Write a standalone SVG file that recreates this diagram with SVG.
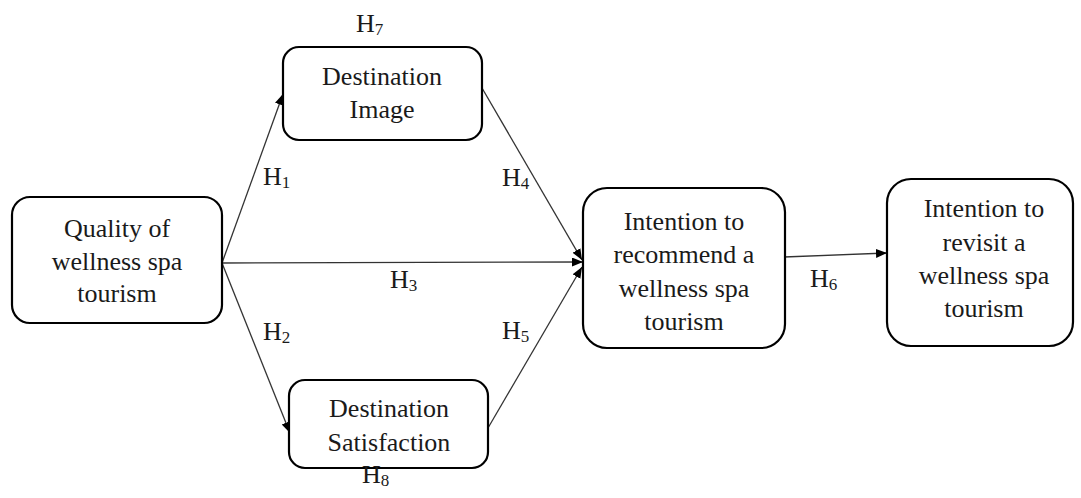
<svg xmlns="http://www.w3.org/2000/svg" width="1081" height="498" viewBox="0 0 1081 498">
<defs>
<marker id="arr" markerUnits="userSpaceOnUse" markerWidth="12" markerHeight="10" refX="11" refY="4.5" orient="auto">
<path d="M0,0 L11,4.5 L0,9 z" fill="#000"/>
</marker>
<style>
.box{fill:#fff;stroke:#000;stroke-width:2.2}
.t{font-family:"Liberation Serif","Times New Roman",serif;font-size:26px;fill:#1a1a1a;text-anchor:middle}
.h{font-family:"Liberation Serif","Times New Roman",serif;font-size:26px;fill:#1a1a1a}
.s{font-size:17px}
.c{stroke:#333;stroke-width:1.3;fill:none;marker-end:url(#arr)}
</style>
</defs>
<rect width="1081" height="498" fill="#fff"/>
<g id="connectors">
<line class="c" x1="222" y1="263" x2="283" y2="94"/>
<line class="c" x1="222" y1="263" x2="290" y2="433"/>
<line class="c" x1="222" y1="263" x2="583" y2="262"/>
<line class="c" x1="482" y1="88" x2="582" y2="260"/>
<line class="c" x1="488" y1="428" x2="582" y2="267"/>
<line class="c" x1="784" y1="257" x2="887" y2="253"/>
</g>
<g id="quality">
<rect class="box" x="12" y="197" width="210" height="126" rx="18"/>
<text class="t" x="117" y="237">Quality of</text>
<text class="t" x="117" y="270">wellness spa</text>
<text class="t" x="117" y="302">tourism</text>
</g>
<g id="image">
<rect class="box" x="283" y="47" width="199" height="93" rx="16"/>
<text class="t" x="382" y="85">Destination</text>
<text class="t" x="382" y="118">Image</text>
</g>
<g id="satisfaction">
<rect class="box" x="289" y="380" width="199" height="88" rx="16"/>
<text class="t" x="389" y="417">Destination</text>
<text class="t" x="389" y="451">Satisfaction</text>
</g>
<g id="recommend">
<rect class="box" x="583" y="188" width="202" height="160" rx="24"/>
<text class="t" x="684" y="230">Intention to</text>
<text class="t" x="684" y="263">recommend a</text>
<text class="t" x="684" y="297">wellness spa</text>
<text class="t" x="684" y="330">tourism</text>
</g>
<g id="revisit">
<rect class="box" x="887" y="179" width="186" height="167" rx="24"/>
<text class="t" x="984" y="217">Intention to</text>
<text class="t" x="984" y="251">revisit a</text>
<text class="t" x="984" y="284">wellness spa</text>
<text class="t" x="984" y="317">tourism</text>
</g>
<g id="labels">
<text class="h" x="356" y="32">H<tspan class="s" dy="3">7</tspan></text>
<text class="h" x="362" y="483">H<tspan class="s" dy="3">8</tspan></text>
<text class="h" x="263" y="185">H<tspan class="s" dy="3">1</tspan></text>
<text class="h" x="263" y="340">H<tspan class="s" dy="3">2</tspan></text>
<text class="h" x="390" y="288">H<tspan class="s" dy="3">3</tspan></text>
<text class="h" x="502" y="186">H<tspan class="s" dy="3">4</tspan></text>
<text class="h" x="502" y="339">H<tspan class="s" dy="3">5</tspan></text>
<text class="h" x="810" y="287">H<tspan class="s" dy="3">6</tspan></text>
</g>
</svg>
